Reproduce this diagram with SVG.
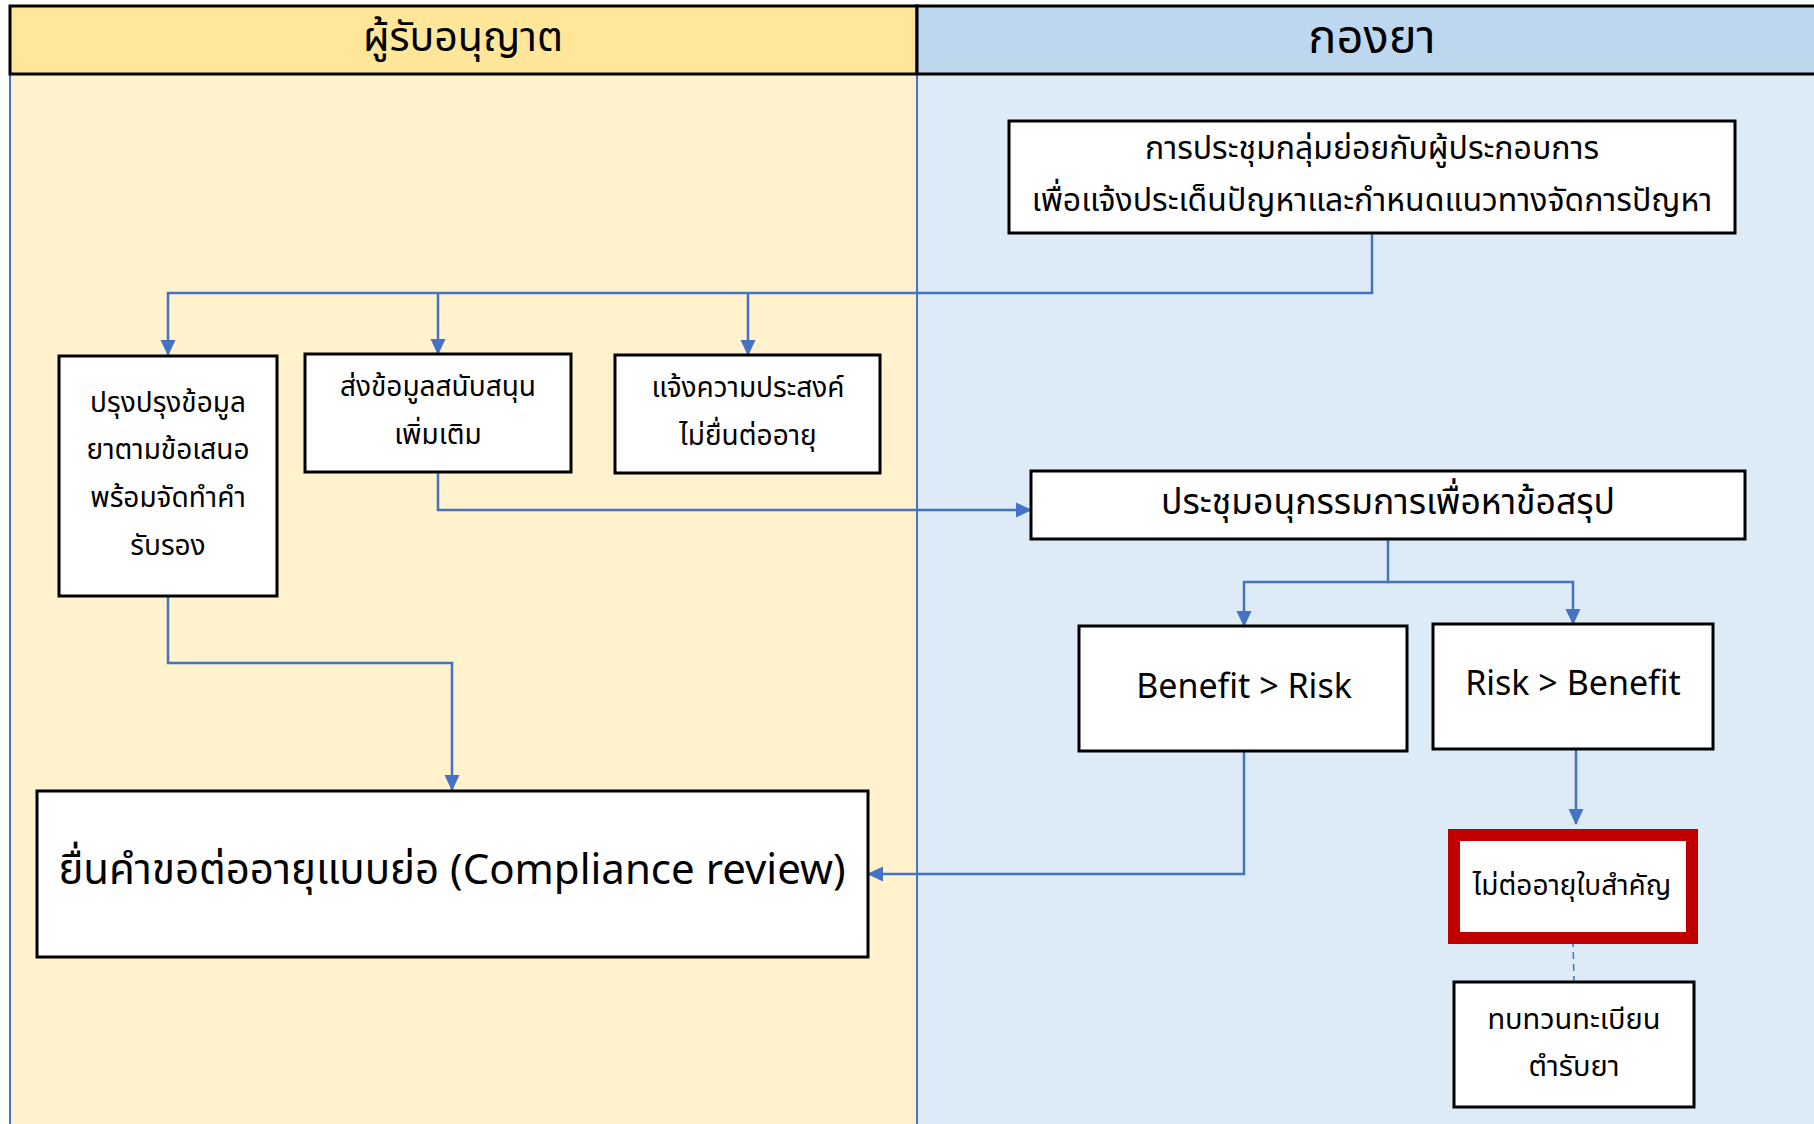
<svg xmlns="http://www.w3.org/2000/svg" width="1814" height="1124" viewBox="0 0 1814 1124">
  <style>
    .th { font-family: "Noto Sans Thai", "Noto Sans", "DejaVu Sans", sans-serif; fill: #000; text-anchor: middle; dominant-baseline: central; }
    .box { fill: #fff; stroke: #000; stroke-width: 3; }
    .conn { fill: none; stroke: #4472C4; stroke-width: 2.5; }
  </style>
  <defs>
    <marker id="arrow" markerUnits="userSpaceOnUse" markerWidth="16" markerHeight="16" viewBox="0 0 16 16" refX="15" refY="8" orient="auto">
      <path d="M0,0.5 L16,8 L0,15.5 Z" fill="#4472C4"/>
    </marker>
  </defs>

  <!-- swimlanes -->
  <g id="lane-licensee">
    <rect x="10" y="74" width="907" height="1060" fill="#FFF2CC" stroke="#4472C4" stroke-width="2"/>
    <rect x="10" y="6" width="907" height="68" fill="#FFE699" stroke="#000" stroke-width="3"/>
    <text class="th" x="463" y="38" font-size="41">ผู้รับอนุญาต</text>
  </g>
  <g id="lane-drug-division">
    <rect x="917" y="74" width="910" height="1060" fill="#DDEBF7" stroke="#4472C4" stroke-width="2"/>
    <rect x="917" y="6" width="910" height="68" fill="#BDD7EE" stroke="#000" stroke-width="3"/>
    <text class="th" x="1372" y="38" font-size="47">กองยา</text>
  </g>

  <!-- connectors -->
  <g id="connectors">
    <polyline class="conn" points="1372,233 1372,293 168,293 168,355" marker-end="url(#arrow)"/>
    <polyline class="conn" points="438,293 438,354" marker-end="url(#arrow)"/>
    <polyline class="conn" points="748,293 748,355" marker-end="url(#arrow)"/>
    <polyline class="conn" points="438,472 438,510 1031,510" marker-end="url(#arrow)"/>
    <polyline class="conn" points="1388,539 1388,582 1244,582 1244,626" marker-end="url(#arrow)"/>
    <polyline class="conn" points="1388,582 1573,582 1573,624" marker-end="url(#arrow)"/>
    <polyline class="conn" points="168,596 168,663 452,663 452,790" marker-end="url(#arrow)"/>
    <polyline class="conn" points="1244,751 1244,874 868,874" marker-end="url(#arrow)"/>
    <polyline class="conn" points="1576,749 1576,824" marker-end="url(#arrow)"/>
    <line x1="1573" y1="940" x2="1574" y2="981" stroke="#4472C4" stroke-width="1.5" stroke-dasharray="7,5"/>
  </g>

  <!-- nodes -->
  <g id="node-meeting-small-group">
    <rect class="box" x="1009" y="121" width="726" height="112"/>
    <text class="th" x="1372" y="149" font-size="32">การประชุมกลุ่มย่อยกับผู้ประกอบการ</text>
    <text class="th" x="1372" y="201" font-size="32">เพื่อแจ้งประเด็นปัญหาและกำหนดแนวทางจัดการปัญหา</text>
  </g>
  <g id="node-update-data">
    <rect class="box" x="59" y="356" width="218" height="240"/>
    <text class="th" x="168" y="403" font-size="28">ปรุงปรุงข้อมูล</text>
    <text class="th" x="168" y="450" font-size="28">ยาตามข้อเสนอ</text>
    <text class="th" x="168" y="498" font-size="28">พร้อมจัดทำคำ</text>
    <text class="th" x="168" y="546" font-size="28">รับรอง</text>
  </g>
  <g id="node-send-data">
    <rect class="box" x="305" y="354" width="266" height="118"/>
    <text class="th" x="438" y="387" font-size="28">ส่งข้อมูลสนับสนุน</text>
    <text class="th" x="438" y="435" font-size="28">เพิ่มเติม</text>
  </g>
  <g id="node-no-renew">
    <rect class="box" x="615" y="355" width="265" height="118"/>
    <text class="th" x="748" y="388" font-size="28">แจ้งความประสงค์</text>
    <text class="th" x="748" y="436" font-size="28">ไม่ยื่นต่ออายุ</text>
  </g>
  <g id="node-subcommittee">
    <rect class="box" x="1031" y="471" width="714" height="68"/>
    <text class="th" x="1388" y="503" font-size="35.5">ประชุมอนุกรรมการเพื่อหาข้อสรุป</text>
  </g>
  <g id="node-benefit">
    <rect class="box" x="1079" y="626" width="328" height="125"/>
    <text class="th" x="1244" y="687" font-size="34">Benefit &gt; Risk</text>
  </g>
  <g id="node-risk">
    <rect class="box" x="1433" y="624" width="280" height="125"/>
    <text class="th" x="1573" y="684" font-size="34">Risk &gt; Benefit</text>
  </g>
  <g id="node-compliance">
    <rect class="box" x="37" y="791" width="831" height="166"/>
    <text class="th" x="452" y="871" font-size="42">ยื่นคำขอต่ออายุแบบย่อ (Compliance review)</text>
  </g>
  <g id="node-not-renew">
    <rect x="1454" y="835" width="238" height="103" fill="#fff" stroke="#C00000" stroke-width="12"/>
    <text class="th" x="1572" y="886" font-size="28">ไม่ต่ออายุใบสำคัญ</text>
  </g>
  <g id="node-review">
    <rect class="box" x="1454" y="982" width="240" height="125"/>
    <text class="th" x="1574" y="1020" font-size="29">ทบทวนทะเบียน</text>
    <text class="th" x="1574" y="1067" font-size="29">ตำรับยา</text>
  </g>
</svg>
